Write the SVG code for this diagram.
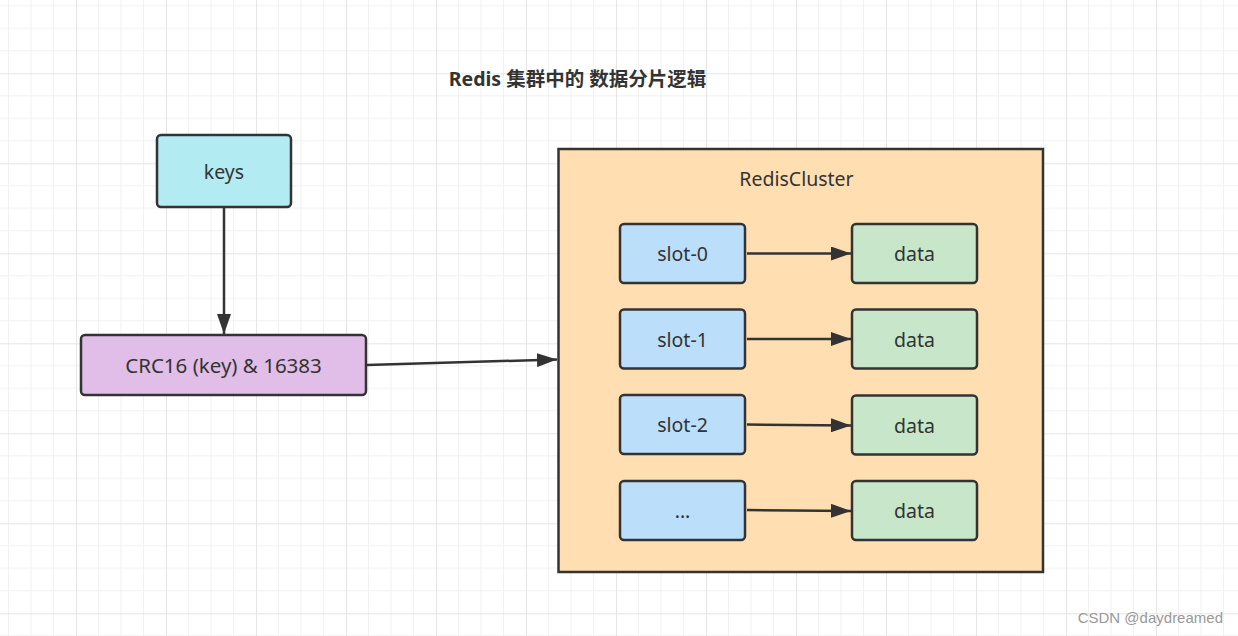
<svg xmlns="http://www.w3.org/2000/svg" width="1238" height="636" viewBox="0 0 1238 636">
  <defs>
    <pattern id="grid" width="90" height="90" patternUnits="userSpaceOnUse" x="-14" y="-16.7">
      <path d="M22.5 0V90M45 0V90M67.5 0V90M0 22.5H90M0 45H90M0 67.5H90" stroke="#f1f1f1" stroke-width="1" fill="none"/>
      <path d="M0.5 0V90M0 0.5H90" stroke="#e5e5e5" stroke-width="1" fill="none"/>
    </pattern>
    <marker id="ah" viewBox="0 0 20 14" refX="20" refY="7" markerWidth="20" markerHeight="14" markerUnits="userSpaceOnUse" orient="auto">
      <path d="M0 0L20 7L0 14z" fill="#333"/>
    </marker>
  </defs>
  <style>
    .box { stroke: #333; stroke-width: 2.5; }
    .lbl { font-family: "Noto Sans", "Open Sans", sans-serif; font-size: 19.5px; fill: #333; text-anchor: middle; dominant-baseline: central; }
    .edge { stroke: #333; stroke-width: 2.5; fill: none; marker-end: url(#ah); }
  </style>
  <rect width="1238" height="636" fill="#ffffff"/>
  <rect width="1238" height="636" fill="url(#grid)"/>

  <text x="577.5" y="78" font-family="'Noto Sans', 'Noto Sans CJK SC', sans-serif" font-size="19.5" font-weight="bold" fill="#333" text-anchor="middle" dominant-baseline="central">Redis 集群中的 数据分片逻辑</text>

  <g id="cluster">
    <rect x="558.5" y="149" width="484.5" height="423" fill="#ffdfb1" stroke="#333" stroke-width="2.5"/>
    <text class="lbl" x="796.5" y="178">RedisCluster</text>
  </g>

  <g id="keys">
    <rect class="box" x="157" y="135" width="134" height="72" rx="4" fill="#b2ebf2"/>
    <text class="lbl" x="224" y="171">keys</text>
  </g>

  <g id="crc">
    <rect class="box" x="81" y="335" width="285" height="60" rx="4" fill="#e1bee7"/>
    <text class="lbl" x="223.5" y="365" style="font-size:20.5px">CRC16 (key) &amp; 16383</text>
  </g>

  <g id="slot-0">
    <rect class="box" x="620" y="224" width="125" height="59" rx="4" fill="#bbdefb"/>
    <text class="lbl" x="682.5" y="253.5">slot-0</text>
  </g>
  <g id="slot-1">
    <rect class="box" x="620" y="309.5" width="125" height="59" rx="4" fill="#bbdefb"/>
    <text class="lbl" x="682.5" y="339">slot-1</text>
  </g>
  <g id="slot-2">
    <rect class="box" x="620" y="395" width="125" height="59" rx="4" fill="#bbdefb"/>
    <text class="lbl" x="682.5" y="424.5">slot-2</text>
  </g>
  <g id="slot-n">
    <rect class="box" x="620" y="481" width="125" height="59" rx="4" fill="#bbdefb"/>
    <text class="lbl" x="682.5" y="510.5">...</text>
  </g>

  <g id="data-0">
    <rect class="box" x="852" y="224" width="125" height="59" rx="4" fill="#c8e6c9"/>
    <text class="lbl" x="914.5" y="253.5">data</text>
  </g>
  <g id="data-1">
    <rect class="box" x="852" y="309.5" width="125" height="59" rx="4" fill="#c8e6c9"/>
    <text class="lbl" x="914.5" y="339">data</text>
  </g>
  <g id="data-2">
    <rect class="box" x="852" y="395.5" width="125" height="59" rx="4" fill="#c8e6c9"/>
    <text class="lbl" x="914.5" y="425">data</text>
  </g>
  <g id="data-3">
    <rect class="box" x="852" y="481" width="125" height="59" rx="4" fill="#c8e6c9"/>
    <text class="lbl" x="914.5" y="510.5">data</text>
  </g>

  <g id="connectors">
    <path class="edge" d="M224 208V334"/>
    <path class="edge" d="M367 365L557 359.5"/>
    <path class="edge" d="M747 253.5H851"/>
    <path class="edge" d="M747 339H851"/>
    <path class="edge" d="M747 424.5L851 425.5"/>
    <path class="edge" d="M747 510L851 511"/>
  </g>

  <text x="1223" y="623" font-family="'Liberation Sans', Arial, sans-serif" font-size="15" fill="#999" text-anchor="end">CSDN @daydreamed</text>
</svg>
